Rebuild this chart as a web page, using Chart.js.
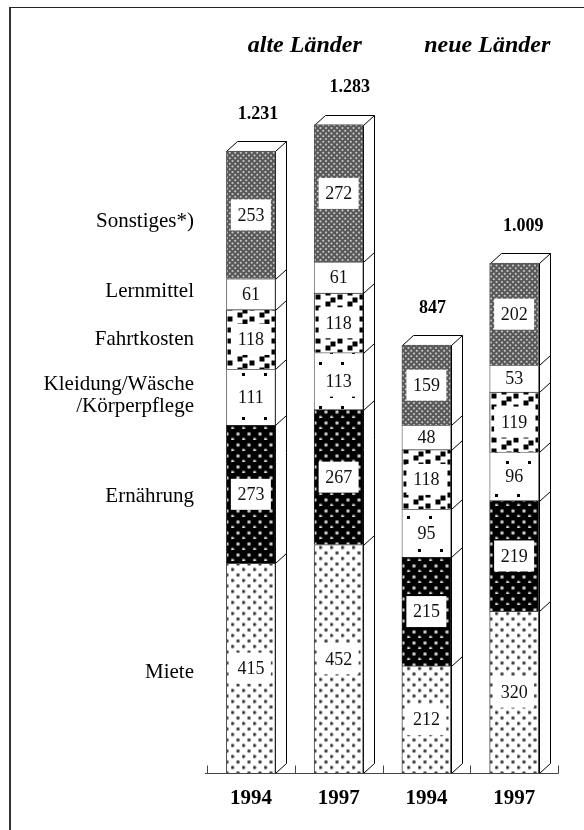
<!DOCTYPE html>
<html>
<head>
<meta charset="utf-8">
<style>
    html, body { margin: 0; padding: 0; background: #fff; }
    #wrap { position: relative; width: 584px; height: 830px; overflow: hidden; }
    #frame { position: absolute; left: 9px; top: 7px; width: 600px; height: 840px; border-top: 1px solid #222; border-left: 2px solid #333; box-sizing: border-box; }
    canvas { position: absolute; left: 0; top: 0; }
</style>
</head>
<body>
<div id="wrap">
    <div id="frame"></div>
    <canvas id="chart" width="584" height="830"></canvas>
</div>
<script src="https://cdn.jsdelivr.net/npm/chart.js@4"></script>
<script>
var years = ['1994', '1997', '1994', '1997'];
var groupTitles = ['alte Länder', 'neue Länder'];
var totals = ['1.231', '1.283', '847', '1.009'];

var miete = [415, 452, 212, 320];
var ernaehrung = [273, 267, 215, 219];
var kleidung = [111, 113, 95, 96];
var fahrtkosten = [118, 118, 118, 119];
var lernmittel = [61, 61, 48, 53];
var sonstiges = [253, 272, 159, 202];

var serif = '"Liberation Serif", "Times New Roman", serif';

// kleine Kachel als Füllmuster
function makeTile(w, h, bg, draw) {
    var c = document.createElement('canvas');
    c.width = w;
    c.height = h;
    var g = c.getContext('2d');
    g.fillStyle = bg;
    g.fillRect(0, 0, w, h);
    draw(g);
    return document.getElementById('chart').getContext('2d').createPattern(c, 'repeat');
}

// weiche Punkte, wie im gerasterten Original
function softDots(g, points, r, rgb) {
    points.forEach(function (p) {
        var grad = g.createRadialGradient(p[0], p[1], 0.4, p[0], p[1], r);
        grad.addColorStop(0, 'rgba(' + rgb + ',1)');
        grad.addColorStop(1, 'rgba(' + rgb + ',0)');
        g.fillStyle = grad;
        g.fillRect(p[0] - r, p[1] - r, r * 2, r * 2);
    });
}

// Quadrate mit Umlauf über den Kachelrand
function squares(g, centers, size, tile) {
    g.fillStyle = '#000';
    centers.forEach(function (p) {
        [-tile, 0, tile].forEach(function (dx) {
            [-tile, 0, tile].forEach(function (dy) {
                g.fillRect(p[0] + dx - size / 2, p[1] + dy - size / 2, size, size);
            });
        });
    });
}

var patMiete = makeTile(11, 11, '#fff', function (g) {
    softDots(g, [[1.5, 8.5], [7, 3]], 2.6, '40,40,40');
});
var patErnaehrung = makeTile(11, 11, '#000', function (g) {
    softDots(g, [[1.5, 10.5], [7, 5]], 2.6, '235,235,235');
});
var patSonstiges = makeTile(11, 11, '#595959', function (g) {
    softDots(g, [[1.5, 1.5], [7, 1.5], [4.25, 4.25], [9.75, 4.25], [1.5, 7], [7, 7], [4.25, 9.75], [9.75, 9.75]], 1.5, '205,205,205');
});
var patKleidung = makeTile(22, 22, '#fff', function (g) {
    squares(g, [[1.5, 0.5], [12.5, 11.5]], 3, 22);
});
var patFahrt = makeTile(22, 22, '#fff', function (g) {
    squares(g, [[10, 11], [20, 7], [3, 14], [10, 0], [20, 18], [3, 3]], 5, 22);
});

function segment(label, data, pattern, border) {
    return {
        label: label,
        data: data,
        backgroundColor: pattern,
        borderColor: border,
        borderWidth: 1,
        barThickness: 49,
        stack: 's'
    };
}

// Seitenfläche und Deckel der Säulen
var depthPlugin = {
    id: 'depth',
    beforeDatasetsDraw: function (chart) {
        var ctx = chart.ctx, y = chart.scales.y, x = chart.scales.x;
        ctx.save();
        ctx.strokeStyle = '#000';
        ctx.lineWidth = 1;
        years.forEach(function (yr, i) {
            var total = 0;
            chart.data.datasets.forEach(function (d) { total += d.data[i]; });
            var l = Math.round(x.getPixelForValue(i) - 24.5) + 0.5;
            var r = l + 49;
            var top = Math.round(y.getPixelForValue(total)) + 0.5;
            var bot = Math.round(y.getPixelForValue(0)) + 0.5;
            ctx.fillStyle = '#fff';
            ctx.beginPath();
            ctx.moveTo(l, top);
            ctx.lineTo(l + 11, top - 10);
            ctx.lineTo(r + 11, top - 10);
            ctx.lineTo(r + 11, bot - 10);
            ctx.lineTo(r, bot);
            ctx.lineTo(r, top);
            ctx.closePath();
            ctx.fill();
            ctx.stroke();
            ctx.beginPath();
            ctx.moveTo(r, top);
            ctx.lineTo(r + 11, top - 10);
            ctx.stroke();
            var sum = 0;
            chart.data.datasets.forEach(function (d, k) {
                sum += d.data[i];
                if (k === chart.data.datasets.length - 1) return;
                var py = Math.round(y.getPixelForValue(sum)) + 0.5;
                ctx.beginPath();
                ctx.moveTo(r, py);
                ctx.lineTo(r + 11, py - 10);
                ctx.stroke();
            });
        });
        ctx.restore();
    }
};

// Zahlen, Summen, Überschriften, Beschriftung links
var textPlugin = {
    id: 'texts',
    afterDatasetsDraw: function (chart) {
        var ctx = chart.ctx, y = chart.scales.y, x = chart.scales.x;
        var sets = chart.data.datasets;
        ctx.save();
        ctx.textBaseline = 'middle';
        ctx.textAlign = 'center';

        // Achse mit Teilstrichen
        var axisY = Math.round(y.getPixelForValue(0)) + 0.5;
        ctx.strokeStyle = '#444';
        ctx.beginPath();
        ctx.moveTo(205, axisY);
        ctx.lineTo(558.5, axisY);
        for (var t = 0; t <= years.length; t++) {
            var tx = Math.round(x.left + t * x.width / years.length) + 0.5;
            ctx.moveTo(tx, axisY);
            ctx.lineTo(tx, axisY - 8);
        }
        ctx.stroke();

        // Wertefelder
        sets.forEach(function (d, k) {
            years.forEach(function (yr, i) {
                var start = 0;
                for (var n = 0; n < k; n++) start += sets[n].data[i];
                var mid = y.getPixelForValue(start + d.data[i] / 2);
                var cx = x.getPixelForValue(i);
                var h = d.data[i] > 100 ? 31 : 22;
                ctx.fillStyle = '#fff';
                ctx.fillRect(cx - 20, mid - h / 2, 40, h);
                ctx.fillStyle = '#111';
                ctx.font = '18px ' + serif;
                ctx.fillText(String(d.data[i]), cx, mid + 1);
            });
        });

        // Summen
        var totalShift = [7, 11, 6, 9];
        ctx.fillStyle = '#000';
        ctx.font = 'bold 18px ' + serif;
        totals.forEach(function (txt, i) {
            var sum = 0;
            sets.forEach(function (d) { sum += d.data[i]; });
            ctx.fillText(txt, x.getPixelForValue(i) + totalShift[i], y.getPixelForValue(sum) - 37);
        });

        // Jahre
        ctx.font = 'bold 21px ' + serif;
        years.forEach(function (yr, i) {
            ctx.fillText(yr, x.getPixelForValue(i), 799);
        });

        // Gruppenköpfe
        ctx.font = 'italic bold 24px ' + serif;
        ctx.fillText(groupTitles[0], (x.getPixelForValue(0) + x.getPixelForValue(1)) / 2 + 10, 46);
        ctx.fillText(groupTitles[1], (x.getPixelForValue(2) + x.getPixelForValue(3)) / 2 + 17, 46);

        // Beschriftung links, an den Segmenten der ersten Säule
        var labelShift = [4, 2, 0, 0, -3, 7];
        ctx.font = '21px ' + serif;
        ctx.textAlign = 'right';
        var cum = 0;
        sets.forEach(function (d, k) {
            var mid = y.getPixelForValue(cum + d.data[0] / 2);
            cum += d.data[0];
            if (k === 2) {
                ctx.fillText('Kleidung/Wäsche', 194, mid - 13);
                ctx.fillText('/Körperpflege', 194, mid + 9);
            } else {
                ctx.fillText(d.label, 194, mid + labelShift[k]);
            }
        });
        ctx.restore();
    }
};

new Chart(document.getElementById('chart'), {
    type: 'bar',
    data: {
        labels: years,
        datasets: [
            segment('Miete', miete, patMiete, '#444'),
            segment('Ernährung', ernaehrung, patErnaehrung, '#222'),
            segment('Kleidung/Wäsche/Körperpflege', kleidung, patKleidung, '#777'),
            segment('Fahrtkosten', fahrtkosten, patFahrt, '#333'),
            segment('Lernmittel', lernmittel, '#fff', '#777'),
            segment('Sonstiges*)', sonstiges, patSonstiges, '#555')
        ]
    },
    options: {
        responsive: false,
        animation: false,
        layout: { padding: 0 },
        plugins: { legend: { display: false }, tooltip: { enabled: false } },
        scales: {
            x: { stacked: true, display: false, grid: { display: false } },
            y: { stacked: true, display: false, min: 0, max: 1500, grid: { display: false } }
        }
    },
    plugins: [depthPlugin, textPlugin, {
        // Plotfläche fest wie im Original
        id: 'fixArea',
        afterLayout: function (chart) {
            var x = chart.scales.x, y = chart.scales.y;
            x.left = 207; x.right = 558; x.width = 351;
            x.configure();
            y.top = 773 - 1500 * 0.5053; y.bottom = 773; y.height = 1500 * 0.5053;
            y.configure();
            chart.chartArea.left = 207; chart.chartArea.right = 558;
            chart.chartArea.top = y.top; chart.chartArea.bottom = 773;
            chart.chartArea.width = 351; chart.chartArea.height = y.height;
        }
    }]
});
</script>
</body>
</html>
